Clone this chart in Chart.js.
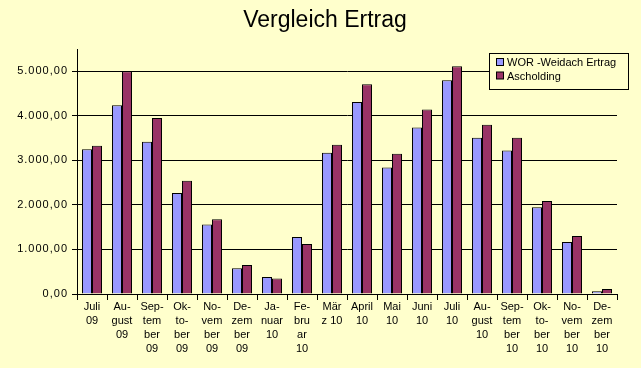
<!DOCTYPE html>
<html lang="de">
<head>
  <meta charset="UTF-8">
  <title>Vergleich Ertrag</title>
  <script src="https://cdn.jsdelivr.net/npm/chart.js"></script>
  <style>
    html, body { margin: 0; padding: 0; background: #FFFFCC; }
    #wrap { width: 641px; height: 368px; }
  </style>
</head>
<body>
  <div id="wrap"><canvas id="ertrag"></canvas></div>

  <script>
    const chartTitle = 'Vergleich Ertrag';

    const months = [
      ['Juli', '09'], ['Au-', 'gust', '09'], ['Sep-', 'tem', 'ber', '09'], ['Ok-', 'to-', 'ber', '09'],
      ['No-', 'vem', 'ber', '09'], ['De-', 'zem', 'ber', '09'], ['Ja-', 'nuar', '10'], ['Fe-', 'bru', 'ar', '10'],
      ['Mär', 'z 10'], ['April', '10'], ['Mai', '10'], ['Juni', '10'], ['Juli', '10'],
      ['Au-', 'gust', '10'], ['Sep-', 'tem', 'ber', '10'], ['Ok-', 'to-', 'ber', '10'],
      ['No-', 'vem', 'ber', '10'], ['De-', 'zem', 'ber', '10']
    ];

    const seriesNames = ['WOR -Weidach Ertrag', 'Ascholding'];

    const weidach = [3250, 4240, 3420, 2270, 1560, 580, 380, 1280, 3170, 4310, 2840, 3740, 4800, 3510, 3220, 1950, 1170, 60];
    const ascholding = [3330, 5000, 3950, 2540, 1680, 650, 350, 1120, 3350, 4710, 3150, 4140, 5110, 3800, 3510, 2090, 1300, 110];

    const yTicks = [0, 1000, 2000, 3000, 4000, 5000];
    const yMax = 5500;

    const FONT = '"Liberation Sans", Arial, sans-serif';
    const BG = '#FFFFCC';

    // German number format: 5.000,00
    function fmt(v) {
      const parts = Number(v).toFixed(2).split('.');
      return parts[0].replace(/\B(?=(\d{3})+(?!\d))/g, '.') + ',' + parts[1];
    }

    const background = {
      id: 'background',
      beforeDraw(chart) {
        const c = chart.ctx;
        c.save();
        c.fillStyle = BG;
        c.fillRect(0, 0, chart.width, chart.height);
        c.restore();
      }
    };

    // the y labels in the original are spaced out a little
    const spacedY = {
      id: 'spacedY',
      afterLayout(chart) {
        const scale = chart.scales.y;
        if (scale._spaced) return;
        const orig = scale.drawLabels;
        scale.drawLabels = function (area) {
          const c = this.ctx;
          c.save();
          c.letterSpacing = '1px';
          orig.call(this, area);
          c.restore();
        };
        scale._spaced = true;
      }
    };

    // title and boxed legend, drawn like the Excel chart
    const overlay = {
      id: 'overlay',
      afterDraw(chart) {
        const c = chart.ctx;
        c.save();
        c.fillStyle = '#000';
        c.font = '23px ' + FONT;
        c.textAlign = 'center';
        c.textBaseline = 'middle';
        c.fillText(chartTitle, 325, 21);

        const bx = 489.5, by = 53.5, bw = 139, bh = 36;
        c.fillStyle = BG;
        c.fillRect(bx, by, bw, bh);
        c.strokeStyle = '#000';
        c.lineWidth = 1;
        c.strokeRect(bx, by, bw, bh);

        c.font = '11px ' + FONT;
        c.textAlign = 'left';
        chart.data.datasets.forEach((ds, i) => {
          const y = 63 + i * 13.5;
          c.fillStyle = ds.backgroundColor;
          c.fillRect(496.5, y - 4.5, 7, 7);
          c.strokeRect(496.5, y - 4.5, 7, 7);
          c.fillStyle = '#000';
          c.fillText(ds.label, 507, y);
        });
        c.restore();
      }
    };

    new Chart(document.getElementById('ertrag'), {
      type: 'bar',
      data: {
        labels: months,
        datasets: [
          { label: seriesNames[0], data: weidach, backgroundColor: '#9999FF' },
          { label: seriesNames[1], data: ascholding, backgroundColor: '#993366' }
        ]
      },
      options: {
        responsive: true,
        maintainAspectRatio: false,
        animation: false,
        layout: { padding: { top: 49, right: 24, left: 0, bottom: 0 } },
        datasets: {
          bar: {
            borderColor: '#000',
            borderWidth: 1,
            categoryPercentage: 0.667,
            barPercentage: 1
          }
        },
        plugins: {
          legend: { display: false },
          title: { display: false },
          tooltip: { enabled: false }
        },
        scales: {
          x: {
            afterFit(scale) { scale.height = 74; },
            grid: {
              drawOnChartArea: false,
              drawTicks: true,
              tickLength: 6,
              color: '#000',
              offset: true
            },
            border: { color: '#000', width: 1 },
            ticks: {
              autoSkip: false,
              maxRotation: 0,
              minRotation: 0,
              padding: 0,
              color: '#000',
              font: { family: FONT, size: 11, lineHeight: 14 / 11 }
            }
          },
          y: {
            min: 0,
            max: yMax,
            afterFit(scale) { scale.width = 77; },
            afterBuildTicks(scale) { scale.ticks = yTicks.map(v => ({ value: v })); },
            grid: { color: '#000', tickLength: 5, lineWidth: 1 },
            border: { color: '#000', width: 1 },
            ticks: {
              padding: 4,
              color: '#000',
              font: { family: FONT, size: 11 },
              callback: v => fmt(v)
            }
          }
        }
      },
      plugins: [background, spacedY, overlay]
    });
  </script>
</body>
</html>
